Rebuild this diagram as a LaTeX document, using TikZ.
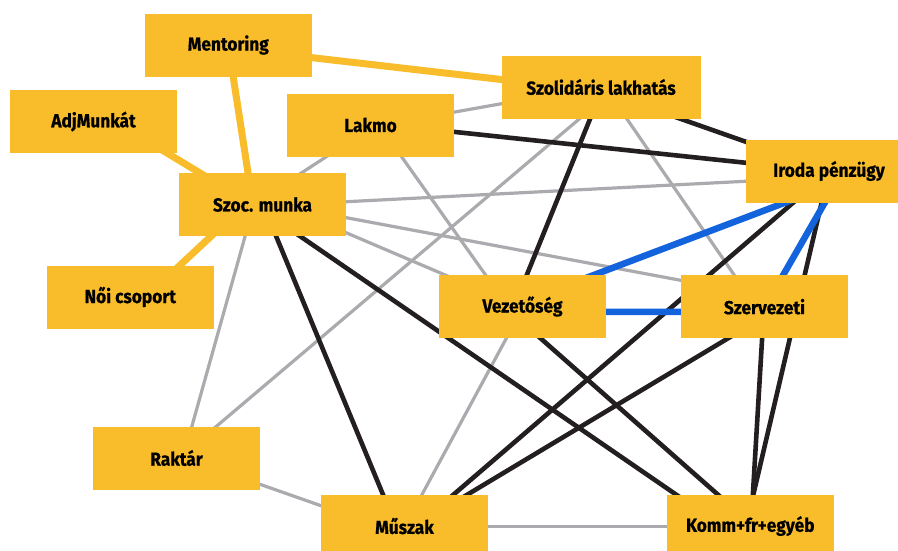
\documentclass[tikz,border=0pt]{standalone}
\usepackage{fontspec}
\newfontfamily\lab{Fira Sans}[FakeStretch=0.92, BoldFeatures={FakeBold=0.6}]
\usetikzlibrary{backgrounds}
\definecolor{boxy}{HTML}{F9BD2C}
\definecolor{edgegray}{HTML}{ABABAF}
\definecolor{edgeblack}{HTML}{231F20}
\definecolor{edgeblue}{HTML}{1263DC}
\tikzset{
  box/.style={fill=boxy, draw=none, minimum width=166.7pt, minimum height=63pt,
    inner xsep=14pt, inner ysep=0pt, font=\lab\bfseries\fontsize{18.8}{20}\selectfont, text=black},
  widebox/.style={box, minimum width=199pt},
  gl/.style={draw=edgegray, line width=3.2pt},
  bl/.style={draw=edgeblack, line width=4.6pt},
  bu/.style={draw=edgeblue, line width=6.5pt},
  yl/.style={draw=boxy, line width=7pt},
}
\begin{document}
\begin{tikzpicture}[x=1pt,y=-1pt]
\useasboundingbox (0,0) rectangle (898,550);
\clip (0,0) rectangle (898,550);
\node[box] (ment) at (228.3,45) {Mentoring};
\node[widebox] (szol) at (601,87) {Szolidáris lakhatás};
\node[box] (adj)  at (93.5,121.5) {AdjMunkát};
\node[box] (lakmo) at (370.5,125) {Lakmo};
\node[box] (iroda) at (829,171) {Iroda pénzügy};
\node[box] (szoc) at (262.5,204.5) {Szoc. munka};
\node[box] (noi)  at (130.3,297) {Női csoport};
\node[box] (vez)  at (522.5,306.5) {Vezetőség};
\node[box] (szerv) at (764.5,306.7) {Szervezeti};
\node[box] (rakt) at (176.5,458) {Raktár};
\node[box] (musz) at (404.5,526) {Műszak};
\node[box] (komm) at (750.3,526) {Komm+fr+egyéb};
\begin{scope}[on background layer]
\fill[white] (0,0) rectangle (898,550);
% gray
\draw[gl] ([shift={(4.5,0)}]lakmo.center) -- ([shift={(-9.5,0)}]szoc.center);
\draw[gl] ([shift={(0,2)}]lakmo.center) -- ([shift={(0,-1)}]szol.center);
\draw[gl] ([shift={(8.5,0)}]lakmo.center) -- ([shift={(-14.5,0)}]vez.center);
\draw[gl] ([shift={(4,0)}]szol.center) -- ([shift={(-8.5,0)}]szerv.center);
\draw[gl] ([shift={(16,0)}]szol.center) -- ([shift={(2.5,0)}]rakt.center);
\draw[gl] ([shift={(0,1.5)}]szoc.center) -- ([shift={(0,6)}]iroda.center);
\draw[gl] ([shift={(0,-2.5)}]szoc.center) -- ([shift={(0,-10.7)}]szerv.center);
\draw[gl] ([shift={(0,-7.5)}]szoc.center) -- ([shift={(0,1.5)}]vez.center);
\draw[gl] ([shift={(-8.5,0)}]szoc.center) -- ([shift={(6.5,0)}]rakt.center);
\draw[gl] ([shift={(1,0)}]vez.center) -- ([shift={(0.5,0)}]musz.center);
\draw[gl] ([shift={(0,-3)}]rakt.center) -- ([shift={(0,9)}]musz.center);
\draw[gl] ([shift={(0,0.5)}]musz.center) -- ([shift={(0,0.5)}]komm.center);
% black
\draw[bl] ([shift={(0,-2)}]lakmo.center) -- ([shift={(0,0.6)}]iroda.center);
\draw[bl] ([shift={(-11,0)}]szol.center) -- (iroda.center);
\draw[bl] ([shift={(2,0)}]szol.center) -- ([shift={(-8.5,0)}]vez.center);
\draw[bl] ([shift={(0.5,0)}]szoc.center) -- ([shift={(-8.5,0)}]musz.center);
\draw[bl] ([shift={(-8.5,0)}]szoc.center) -- ([shift={(-28.5,0)}]komm.center);
\draw[bl] (iroda.center) -- ([shift={(-4.3,0)}]komm.center);
\draw[bl] ([shift={(1,0)}]iroda.center) -- ([shift={(12.5,0)}]musz.center);
\draw[bl] ([shift={(-0.5,0)}]szerv.center) -- ([shift={(0.7,0)}]komm.center);
\draw[bl] ([shift={(16.3,0)}]szerv.center) -- ([shift={(10.5,0)}]musz.center);
\draw[bl] ([shift={(-18,0)}]vez.center) -- ([shift={(3.2,0)}]komm.center);
% blue
\draw[bu] ([shift={(0,-4.5)}]vez.center) -- ([shift={(0,15)}]iroda.center);
\draw[bu] ([shift={(0,5.5)}]vez.center) -- ([shift={(0,5)}]szerv.center);
\draw[bu] ([shift={(14,0)}]iroda.center) -- ([shift={(0.5,0)}]szerv.center);
% yellow
\draw[yl] ([shift={(0,3)}]ment.center) -- ([shift={(0,4)}]szol.center);
\draw[yl] (ment.center) -- ([shift={(-9.5,0.5)}]szoc.center);
\draw[yl] ([shift={(21.5,0)}]adj.center) -- ([shift={(-10.5,0)}]szoc.center);
\draw[yl] ([shift={(15.7,0)}]noi.center) -- ([shift={(-17.5,0)}]szoc.center);
\end{scope}
\end{tikzpicture}
\end{document}
